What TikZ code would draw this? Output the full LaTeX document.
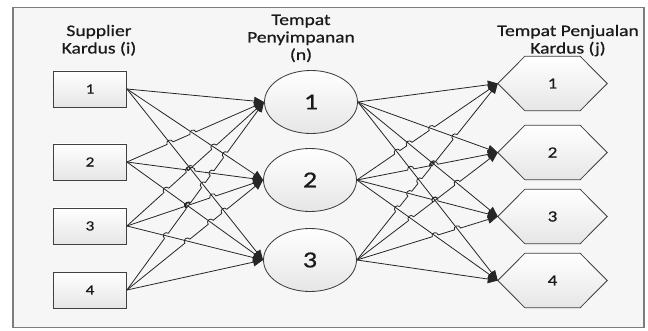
\documentclass[tikz,border=0pt]{standalone}
\usepackage{fontspec}
\setmainfont{Carlito}[FakeStretch=1.22,FakeBold=0.7]
\usetikzlibrary{arrows.meta,shapes.geometric,intersections,calc}
\pgfdeclarelayer{back}
\pgfsetlayers{back,main}

\definecolor{inkgray}{HTML}{262626}
\definecolor{shapeline}{HTML}{404040}
\definecolor{panel}{HTML}{F6F6F6}
\definecolor{panelline}{HTML}{7D7D7D}
\definecolor{shadelow}{HTML}{E6E6E6}
\definecolor{textink}{HTML}{1A1A1A}

\tikzset{
  shapefill/.style={top color=white, bottom color=shadelow},
  srcbox/.style={draw=shapeline, line width=0.85pt, shapefill, minimum width=73pt,
    minimum height=36pt, inner sep=0pt, text=textink, font=\fontsize{14}{16}\selectfont},
  store/.style={ellipse, draw=shapeline, line width=0.85pt, shapefill, minimum width=93pt,
    minimum height=63pt, inner sep=0pt, text=textink, font=\fontsize{23}{26}\selectfont},
  outlet/.style={minimum width=55pt, minimum height=54pt, inner sep=0pt,
    text=textink, font=\fontsize{15.5}{18}\selectfont},
  hexline/.style={draw=shapeline, line width=0.85pt, shapefill},
  panelbox/.style={draw=panelline, line width=1.3pt, fill=panel},
  head/.style={anchor=base, inner sep=0pt, text=textink, font=\fontsize{16}{18}\selectfont},
  conn/.style={draw=inkgray, line width=0.8pt},
  tipped/.style={-{Triangle[length=10pt,width=8.5pt]}},
}

% every link of the network: source anchor / target anchor
\def\netlinks{%
s1.east/c1.west,s1.east/c2.west,s1.east/c3.west,%
s2.east/c1.west,s2.east/c2.west,s2.east/c3.west,%
s3.east/c1.west,s3.east/c2.west,s3.east/c3.west,%
s4.east/c1.west,s4.east/c2.west,s4.east/c3.west,%
c1.east/t1,c1.east/t2,c1.east/t3,c1.east/t4,%
c2.east/t1,c2.east/t2,c2.east/t3,c2.east/t4,%
c3.east/t1,c3.east/t2,c3.east/t3,c3.east/t4}

\begin{document}
\begin{tikzpicture}[x=1pt,y=-1pt]
\useasboundingbox (0,0) rectangle (648,331);

% column headings
\node[head] (hs1) at (99,36) {Supplier};
\node[head] (hs2) at (99,53.5) {Kardus (i)};
\node[head] (hm1) at (301,25) {Tempat};
\node[head] (hm2) at (301,42.5) {Penyimpanan};
\node[head] (hm3) at (301,60) {(n)};
\node[head] (hr1) at (568,36) {Tempat Penjualan};
\node[head] (hr2) at (568,53.5) {Kardus (j)};

% suppliers
\node[srcbox] (s1) at (90,89) {1};
\node[srcbox] (s2) at (90,162) {2};
\node[srcbox] (s3) at (90,226) {3};
\node[srcbox] (s4) at (90,290) {4};

% storage places
\node[store] (c1) at (311,102) {1};
\node[store] (c2) at (310,180) {2};
\node[store] (c3) at (310,260) {3};

% selling places (hexagon drawn behind the label)
\node[outlet] (j1) at (552.5,83.5) {1};
\node[outlet] (j2) at (552.5,152.5) {2};
\node[outlet] (j3) at (552.5,216.5) {3};
\node[outlet] (j4) at (552.5,280.5) {4};
\foreach \h in {1,...,4}
  \coordinate (t\h) at ([xshift=-27pt]j\h.west);

\begin{pgfonlayer}{back}
  \draw[panelbox] (13,7.5) rectangle (644,327.5);
  \foreach \h in {1,...,4}
    \draw[hexline] (t\h) -- (j\h.north west) -- (j\h.north east)
      -- ([xshift=27pt]j\h.east) -- (j\h.south east) -- (j\h.south west) -- cycle;
\end{pgfonlayer}

% hidden copies of the links, used to find crossings
\foreach \a/\b [count=\k] in \netlinks {
  \path[name path global=w\k] ($(\a)!0.03!(\b)$) -- ($(\a)!0.97!(\b)$);
}

% each link jumps over the links drawn before it
\foreach \a/\b [count=\k] in \netlinks {
  \gdef\hopclip{}\gdef\hoparcs{}
  \path let \p1=(\a), \p2=(\b) in \pgfextra{%
    \pgfmathsetmacro\hopang{atan2(\y2-\y1,\x2-\x1)}%
    \pgfmathsetmacro\hopback{\hopang+180}%
    \global\let\hopang\hopang\global\let\hopback\hopback};
  \ifnum\k>1
    \pgfmathtruncatemacro\kprev{\k-1}
    \foreach \j in {1,...,\kprev} {
      \path[name intersections/.expanded={of=w\k\space and w\j,total=\noexpand\hits}]
        \pgfextra{\global\let\hitsg\hits};
      \ifnum\hitsg>0
        \coordinate (x\k-\j) at (intersection-1);
        \xdef\hopclip{\hopclip (x\k-\j) circle[radius=3.2pt]}
        \xdef\hoparcs{\hoparcs (x\k-\j) ++(\hopback:3.2pt)
          arc[start angle=\hopback,end angle=\hopang,radius=3.2pt]}
      \fi
    }
  \fi
  \begin{scope}
    \clip (-20,-20) -- (670,-20) -- (670,350) -- (-20,350) -- cycle \hopclip;
    \draw[conn,tipped] (\a) -- (\b);
  \end{scope}
  \draw[conn] \hoparcs;
}
\end{tikzpicture}
\end{document}
